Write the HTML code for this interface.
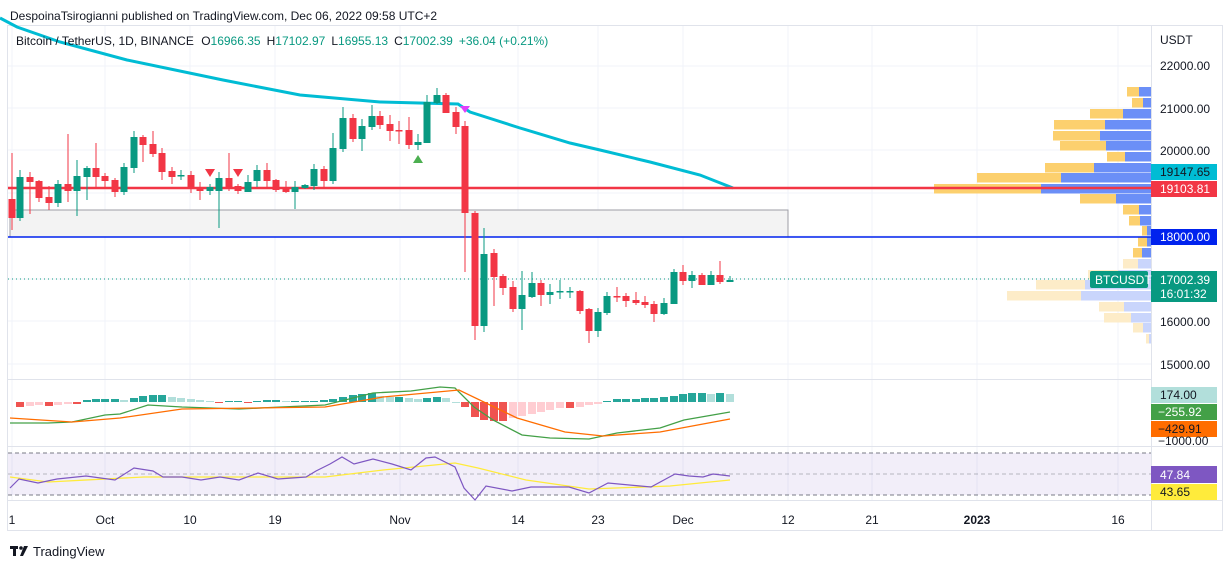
<!DOCTYPE html>
<html><head><meta charset="utf-8"><style>
body{margin:0;background:#fff;font-family:"Liberation Sans",sans-serif;}
svg text{font-family:"Liberation Sans",sans-serif;}
</style></head><body>
<svg id="s" width="1231" height="569" xmlns="http://www.w3.org/2000/svg">
<rect width="1231" height="569" fill="#fff"/>
<text x="10" y="20" font-size="12" fill="#131722">DespoinaTsirogianni published on TradingView.com, Dec 06, 2022 09:58 UTC+2</text>
<rect x="7.5" y="25.5" width="1215" height="505" fill="none" stroke="#e0e3eb"/>
<g id="grid" stroke="#f0f3fa" stroke-width="1"></g>
<rect x="10" y="210" width="778" height="27" fill="#f3f3f3" stroke="#9e9ea6"/>
<path id="ma" fill="none" stroke="#00bcd4" stroke-width="3" d="M0,18 L17,27 L60,42 L127,60 L223,80 L300,95 L380,102 L458,104 L470,112 L520,128 L570,143 L600,150 L650,162 L700,175 L733,188"/>
<g id="vp"></g>
<line x1="8" y1="188" x2="1151" y2="188" stroke="#f23645" stroke-width="2.5"/>
<line x1="8" y1="237" x2="1151" y2="237" stroke="#0022ee" stroke-width="1.5"/>
<line x1="8" y1="279" x2="1090" y2="279" stroke="#089981" stroke-dasharray="1,3"/>
<g id="candles"></g>
<path d="M205,169 h10 l-5,8z M233,169 h10 l-5,8z" fill="#f23645"/>
<path d="M413,163 h10 l-5,-8z" fill="#4caf50"/>
<path d="M460,106 h10 l-5,7z" fill="#e040fb"/>
<text x="16" y="45" font-size="12" fill="#131722">Bitcoin / TetherUS, 1D, BINANCE <tspan dx="4">O</tspan><tspan fill="#089981">16966.35</tspan><tspan dx="6">H</tspan><tspan fill="#089981">17102.97</tspan><tspan dx="6">L</tspan><tspan fill="#089981">16955.13</tspan><tspan dx="6">C</tspan><tspan fill="#089981">17002.39</tspan><tspan dx="6" fill="#089981">+36.04 (+0.21%)</tspan></text>
<line x1="1151.5" y1="25" x2="1151.5" y2="530" stroke="#e0e3eb"/>
<g font-size="12" fill="#131722">
<text x="1160" y="44">USDT</text>
<text x="1160" y="70">22000.00</text>
<text x="1160" y="113">21000.00</text>
<text x="1160" y="155">20000.00</text>
<text x="1160" y="326">16000.00</text>
<text x="1160" y="369">15000.00</text>
</g>
<rect x="1151" y="164" width="66" height="16" fill="#00bcd4"/><text x="1160" y="176" font-size="12" fill="#131722">19147.65</text>
<rect x="1151" y="181" width="66" height="16" fill="#f23645"/><text x="1160" y="193" font-size="12" fill="#fff">19103.81</text>
<rect x="1151" y="229" width="66" height="16" fill="#0022ee"/><text x="1160" y="241" font-size="12" fill="#fff">18000.00</text>
<rect x="1151" y="271" width="66" height="31" fill="#089981"/><text x="1160" y="284" font-size="12" fill="#fff">17002.39</text><text x="1160" y="298" font-size="12" fill="#fff">16:01:32</text>
<rect x="1090" y="271" width="58" height="17" rx="2" fill="#089981"/><text x="1095" y="284" font-size="12" fill="#fff">BTCUSDT</text>
<line x1="8" y1="379.5" x2="1151" y2="379.5" stroke="#e0e3eb"/>
<line x1="8" y1="446.5" x2="1222" y2="446.5" stroke="#e0e3eb"/>
<line x1="8" y1="500.5" x2="1222" y2="500.5" stroke="#e0e3eb"/>
<g id="macd"></g>
<path fill="none" stroke="#43a047" stroke-width="1.3" d="M10,423 L48,423 L72,422 L105,415 L120,414 L148,405 L182,407 L239,409 L325,405 L373,393 L411,391 L440,387 L455,388 L474,407 L493,420 L522,435 L550,438 L589,439 L617,433 L660,428 L684,420 L730,412"/>
<path fill="none" stroke="#ff6d00" stroke-width="1.3" d="M10,418 L72,422 L120,418 L182,409 L325,407 L383,397 L459,390 L517,418 L565,432 L603,436 L660,432 L730,419"/>
<rect x="1151" y="387" width="66" height="16" fill="#b2dfdb"/><text x="1160" y="399" font-size="12" fill="#131722">174.00</text>
<rect x="1151" y="404" width="66" height="16" fill="#43a047"/><text x="1158" y="416" font-size="12" fill="#fff">−255.92</text>
<rect x="1151" y="421" width="66" height="16" fill="#ff6d00"/><text x="1158" y="433" font-size="12" fill="#131722">−429.91</text>
<text x="1158" y="445" font-size="12" fill="#131722">−1000.00</text>
<rect x="8" y="453" width="1143" height="42" fill="#7e57c2" fill-opacity="0.1"/>
<g stroke="#787b86" stroke-dasharray="4,3"><line x1="8" y1="453" x2="1151" y2="453"/><line x1="8" y1="474" x2="1151" y2="474" stroke-opacity="0.5"/><line x1="8" y1="495" x2="1151" y2="495"/></g>
<path fill="none" stroke="#ffeb3b" stroke-width="1.3" d="M10,477 L48,482 L144,477 L287,477 L325,477 L383,470 L455,463 L478,468 L526,480 L589,489 L670,486 L730,480"/>
<path fill="none" stroke="#7e57c2" stroke-width="1.2" d="M10,488 L19,479 L38,483 L57,479 L86,476 L115,480 L134,468 L153,471 L163,477 L182,477 L201,480 L220,477 L239,480 L258,473 L278,479 L306,477 L316,471 L330,464 L342,457 L354,464 L373,459 L392,464 L411,470 L426,458 L435,457 L455,467 L464,488 L475,500 L486,486 L512,491 L531,487 L569,487 L589,493 L608,483 L651,487 L675,474 L689,476 L703,477 L713,474 L730,476"/>
<rect x="1151" y="466" width="66" height="17" fill="#7e57c2"/><text x="1160" y="479" font-size="12" fill="#fff">47.84</text>
<rect x="1151" y="484" width="66" height="16" fill="#ffeb3b"/><text x="1160" y="496" font-size="12" fill="#131722">43.65</text>
<g font-size="12" fill="#131722" text-anchor="middle">
<text x="12" y="524">1</text><text x="105" y="524">Oct</text><text x="190" y="524">10</text><text x="275" y="524">19</text><text x="400" y="524">Nov</text><text x="518" y="524">14</text><text x="598" y="524">23</text><text x="683" y="524">Dec</text><text x="788" y="524">12</text><text x="872" y="524">21</text><text x="977" y="524" font-weight="bold">2023</text><text x="1118" y="524">16</text>
</g>
<g fill="#131722"><rect x="10" y="546" width="8" height="3"/><rect x="13" y="546" width="3" height="10"/><circle cx="21" cy="548" r="1.8"/><path d="M24,546 h4 l-5,10 h-3z"/></g>
<text x="33" y="556" font-size="13" fill="#131722">TradingView</text>
</svg>
<script>
var NS="http://www.w3.org/2000/svg";
function el(p,t,a){var e=document.createElementNS(NS,t);for(var k in a)e.setAttribute(k,a[k]);document.getElementById(p).appendChild(e);return e;}
// grid
[12,105,190,275,400,518,598,683,788,872,977,1118].forEach(function(x){el("grid","line",{x1:x,y1:26,x2:x,y2:500});});
[66,108,150,193,236,279,321,364].forEach(function(y){el("grid","line",{x1:8,y1:y,x2:1151,y2:y});});
// volume profile [top, yellowLeft, blueLeft, light]
var vp=[[87,1127,1139],[98,1132,1143],[109,1090,1123],[120,1054,1105],[131,1053,1100],[141,1060,1106],[152,1107,1125],[163,1045,1094],[173,977,1061],[184,934,1041],[194,1080,1116],[205,1123,1139],[216,1129,1140],[226,1142,1147],[237,1138,1147],[248,1133,1142],[259,1123,1138,1],[270,1088,1118,1],[280,1036,1085,1],[291,1007,1081,1],[302,1099,1124,1],[313,1104,1131,1],[323,1133,1143,1],[334,1146,1149,1]];
vp.forEach(function(r){var l=r[3];el("vp","rect",{x:r[1],y:r[0],width:r[2]-r[1],height:9.5,fill:l?"#fdecc8":"#fcd06e"});el("vp","rect",{x:r[2],y:r[0],width:1151-r[2],height:9.5,fill:l?"#c9d5fc":"#6b8ff7"});});
// candles x, o, c, h, l (pixel), colour by o<c
var C=[[12,199,218,153,230,"r"],[20,218,177,170,221,"g"],[30,177,182,172,214,"r"],[39,181,198,180,202,"r"],[49,197,203,186,210,"r"],[58,203,184,180,207,"g"],[68,184,191,134,202,"r"],[77,191,176,160,216,"g"],[87,177,168,166,200,"g"],[96,168,177,143,187,"r"],[105,176,181,173,187,"r"],[115,180,192,178,197,"r"],[124,192,167,163,195,"g"],[134,168,137,131,173,"g"],[143,137,145,135,162,"r"],[153,144,154,131,157,"r"],[162,153,172,148,180,"r"],[172,171,177,167,184,"r"],[181,176,175,170,180,"g"],[191,175,189,171,193,"r"],[200,189,191,182,200,"r"],[210,191,187,184,195,"g"],[219,191,178,172,228,"g"],[229,178,187,153,191,"r"],[238,186,191,184,194,"r"],[248,192,182,175,192,"g"],[257,181,170,165,187,"g"],[267,170,181,163,189,"r"],[276,180,190,179,192,"r"],[286,189,192,181,193,"r"],[295,192,187,181,209,"g"],[305,188,185,184,189,"g"],[314,186,169,164,190,"g"],[324,169,181,166,187,"r"],[333,181,148,133,184,"g"],[343,149,118,107,152,"g"],[353,118,139,114,142,"r"],[362,139,126,119,151,"g"],[372,127,116,105,130,"g"],[380,116,125,111,129,"r"],[390,124,131,115,141,"r"],[399,130,131,121,144,"r"],[409,130,145,117,149,"r"],[418,145,142,134,150,"g"],[427,143,102,95,143,"g"],[437,103,95,88,104,"g"],[446,95,113,93,113,"r"],[456,112,127,107,134,"r"],[465,126,213,121,272,"r"],[475,213,326,211,340,"r"],[484,326,254,228,332,"g"],[494,253,277,249,306,"r"],[503,276,288,274,295,"r"],[513,287,309,281,312,"r"],[522,309,295,271,330,"g"],[532,297,283,272,298,"g"],[541,283,295,280,306,"r"],[550,295,292,284,304,"g"],[560,292,291,280,299,"g"],[570,292,291,287,298,"g"],[580,291,311,290,314,"r"],[589,309,331,308,343,"r"],[598,331,312,308,337,"g"],[607,313,296,292,315,"g"],[617,296,297,287,302,"r"],[626,296,301,293,307,"r"],[636,300,303,292,305,"r"],[645,302,305,296,308,"r"],[654,304,314,301,322,"r"],[664,314,303,298,315,"g"],[674,304,272,269,304,"g"],[683,272,281,265,285,"r"],[692,281,275,271,288,"g"],[702,275,285,273,285,"r"],[711,285,275,271,285,"g"],[720,275,282,261,284,"r"],[730,282,280,276,282,"g"]];
C.forEach(function(c){var col=c[5]=="g"?"#089981":"#f23645";el("candles","line",{x1:c[0],y1:c[3],x2:c[0],y2:c[4],stroke:col,"stroke-width":1});var t=Math.min(c[1],c[2]),h=Math.max(1.5,Math.abs(c[1]-c[2]));el("candles","rect",{x:c[0]-3.5,y:t,width:7,height:h,fill:col});});
// macd histogram
var H=[-5,-4,-3,-4,-3,-2,-2,2,3,3,3,2,4,6,7,7,5,4,3,2,1,-1,1,1,-1,1,2,2,1,1,1,1,2,3,5,7,8,9,6,5,5,4,3,4,5,4,0,-5,-15,-18,-19,-19,-16,-14,-12,-10,-8,-6,-6,-5,-3,-2,1,3,3,3,4,4,5,6,8,9,9,8,9,8];
var start=C.length-H.length;
H.forEach(function(v,i){var x=C[start+i][0],prev=i?H[i-1]:0;var col=v>=0?(v>=prev?"#26a69a":"#b2dfdb"):(v<=prev?"#ef5350":"#ffcdd2");el("macd","rect",{x:x-4,y:v>=0?402-v:402,width:8,height:Math.max(1,Math.abs(v)),fill:col});});
</script>
</body></html>
